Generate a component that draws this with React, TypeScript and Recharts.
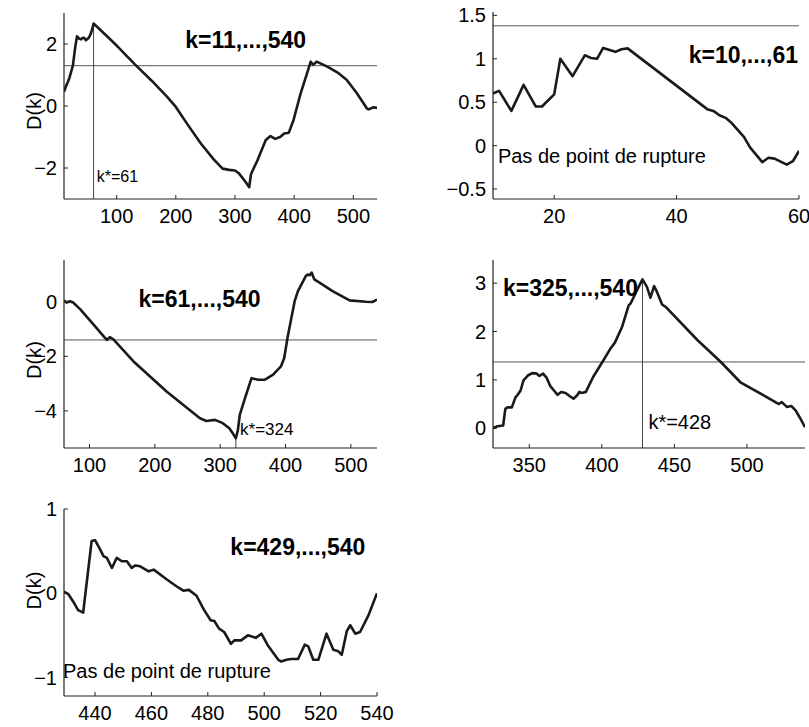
import React from 'react';
import { LineChart, Line, XAxis, YAxis, ReferenceLine, ReferenceDot } from 'recharts';

const FONT = '"Liberation Sans", Arial, Helvetica, sans-serif';

// ---- data: [k, D(k)] ----
const series1: [number, number][] = [
  [11, 0.46], [14, 0.62], [18, 0.8], [20, 0.9], [26, 1.3], [30, 1.9], [33, 2.25], [36, 2.18], [40, 2.15],
  [43, 2.2], [45.5, 2.19], [48, 2.12], [50, 2.15], [53, 2.2], [56, 2.32], [59, 2.5], [61, 2.66], [70, 2.5],
  [100, 1.95], [130, 1.36], [160, 0.8], [185, 0.3], [200, -0.03], [220, -0.6], [242, -1.2], [264, -1.72],
  [279, -2.02], [290, -2.06], [300, -2.08], [307, -2.18], [318, -2.45], [324, -2.62], [327, -2.2], [338, -1.75],
  [352, -1.1], [360, -0.97], [368, -1.06], [377, -0.99], [383, -0.89], [391, -0.86], [399, -0.45], [411, 0.41],
  [428, 1.43], [432, 1.33], [438, 1.43], [456, 1.27], [475, 1.06], [489, 0.84], [506, 0.41], [523, -0.08],
  [526, -0.11], [534, -0.04], [540, -0.06],
];
const series2: [number, number][] = [
  [10, 0.6], [11, 0.63], [13, 0.4], [15, 0.7], [17, 0.45], [18, 0.45], [20, 0.59], [21, 1.0], [23, 0.8],
  [25, 1.04], [26, 1.01], [27, 1.0], [28, 1.125], [30, 1.08], [31, 1.11], [32, 1.12], [45, 0.42], [46, 0.4],
  [47, 0.35], [48, 0.32], [49, 0.26], [51, 0.1], [52, -0.02], [54, -0.19], [55, -0.14], [56, -0.15],
  [58, -0.22], [59, -0.18], [60, -0.06],
];
const series3: [number, number][] = [
  [61, 0.05], [65, -0.03], [70, 0.02], [75, -0.03], [86, -0.28], [106, -0.83], [124, -1.33], [127, -1.4],
  [131, -1.3], [137, -1.39], [167, -2.18], [218, -3.29], [269, -4.27], [279, -4.37], [292, -4.33], [304, -4.45],
  [314, -4.64], [320, -4.85], [324, -5.0], [327, -4.72], [330, -4.15], [338, -3.53], [348, -2.8], [358, -2.86],
  [368, -2.86], [381, -2.67], [393, -2.37], [398, -2.06], [403, -1.33], [409, -0.59], [414, 0.02], [419, 0.39],
  [431, 0.94], [434, 1.0], [437, 0.97], [440, 1.07], [444, 0.82], [452, 0.7], [472, 0.39], [498, 0.05],
  [523, 0.0], [533, -0.01], [540, 0.08],
];
const series4: [number, number][] = [
  [325, 0], [328, 0.04], [332, 0.055], [333.5, 0.4], [335, 0.43], [338, 0.43], [340.5, 0.64], [342, 0.69],
  [344, 0.78], [346, 0.99], [349, 1.09], [352, 1.14], [355, 1.13], [357, 1.08], [359.5, 1.13], [362, 1.04],
  [364.5, 0.87], [367, 0.78], [369.5, 0.69], [372, 0.75], [375, 0.73], [378, 0.66], [380.5, 0.61], [383, 0.68],
  [384.5, 0.75], [386, 0.73], [389, 0.75], [394, 1.06], [401, 1.4], [406, 1.65], [409, 1.77], [414, 2.1],
  [418.5, 2.54], [420, 2.59], [424, 2.84], [428, 3.08], [431, 2.93], [433.5, 2.7], [436, 2.94], [438, 2.82],
  [441.5, 2.56], [444, 2.51], [466, 1.82], [482, 1.37], [495.5, 0.95], [511.5, 0.68], [522, 0.5], [524, 0.54],
  [527.5, 0.44], [530.5, 0.46], [533.5, 0.37], [537, 0.19], [540, 0.02],
];
const series5: [number, number][] = [
  [429, 0.02], [430.5, -0.01], [432.3, -0.1], [434, -0.2], [435.8, -0.23], [438.8, 0.62], [440, 0.63],
  [441.8, 0.52], [443, 0.44], [444.2, 0.42], [446, 0.3], [447.7, 0.42], [449.5, 0.38], [451.3, 0.38], [453, 0.3],
  [454.3, 0.33], [456, 0.32], [459, 0.26], [460.8, 0.28], [465.6, 0.16], [469, 0.08], [471.3, 0.03],
  [473.3, 0.04], [476, -0.03], [478.7, -0.2], [481, -0.32], [482.3, -0.33], [484, -0.42], [485.8, -0.46],
  [488.2, -0.6], [489.4, -0.56], [491.8, -0.56], [494.2, -0.5], [497, -0.53], [499, -0.48], [501.3, -0.62],
  [505, -0.79], [506, -0.81], [507.9, -0.79], [509.6, -0.78], [512, -0.78], [514.4, -0.61], [515.6, -0.63],
  [517.4, -0.79], [519.2, -0.79], [522.1, -0.48], [524.5, -0.67], [526.3, -0.69], [527.5, -0.73], [529.3, -0.45],
  [530.5, -0.38], [532.3, -0.48], [534, -0.46], [537, -0.26], [540, 0.0],
];

// ---- ticks ----
const xTicks1 = [100, 200, 300, 400, 500];
const yTicks1 = [-2, 0, 2];
const xTicks2 = [20, 40, 60];
const yTicks2 = [-0.5, 0, 0.5, 1, 1.5];
const xTicks3 = [100, 200, 300, 400, 500];
const yTicks3 = [-4, -2, 0];
const xTicks4 = [350, 400, 450, 500];
const yTicks4 = [0, 1, 2, 3];
const xTicks5 = [440, 460, 480, 500, 520, 540];
const yTicks5 = [-1, 0, 1];

// ---- thresholds and titles ----
const thresholds = [1.3, 1.38, -1.4, 1.37, null];
const titles = ['k=11,...,540', 'k=10,...,61', 'k=61,...,540', 'k=325,...,540', 'k=429,...,540'];

const fmt = (v: number) => (v < 0 ? '\u2212' + String(-v) : String(v));

const TL = 4;
const AX = '#222';

const bottomTick = (p: any) => (
  <g>
    <line x1={p.x} x2={p.x} y1={p.y} y2={p.y - TL} stroke={AX} strokeWidth={1} />
    <text x={p.x} y={p.y + 10} dy="0.71em" textAnchor="middle" fontSize={20} fontFamily={FONT} fill="#000">
      {fmt(p.payload.value)}
    </text>
  </g>
);
const topTick = (p: any) => (
  <line x1={p.x} x2={p.x} y1={p.y} y2={p.y + TL} stroke={AX} strokeWidth={1} />
);
const leftTick = (p: any) => (
  <g>
    <line x1={p.x} x2={p.x + TL} y1={p.y} y2={p.y} stroke={AX} strokeWidth={1} />
    <text x={p.x - 7} y={p.y} dy="0.355em" textAnchor="end" fontSize={20} fontFamily={FONT} fill="#000">
      {fmt(p.payload.value)}
    </text>
  </g>
);
const rightTick = (p: any) => (
  <line x1={p.x} x2={p.x - TL} y1={p.y} y2={p.y} stroke={AX} strokeWidth={1} />
);

type Note = { x: number; y: number; text: string; size: number; bold?: boolean; anchor?: string; dx?: number };

type PanelProps = {
  left: number; top: number; w: number; h: number;
  series: [number, number][];
  xd: [number, number]; yd: [number, number];
  xt: number[]; yt: number[];
  thr: number | null;
  vline?: { k: number; d: number };
  notes: Note[];
  ylabel?: boolean;
  ylabelDy?: number;
};

const YW = 64;
const MT = 14;
const MR = 30;
const XH = 40;

function noteDot(n: Note, i: number) {
  return (
    <ReferenceDot
      key={'n' + i}
      xAxisId="b"
      yAxisId="l"
      x={n.x}
      y={n.y}
      r={0}
      fill="none"
      stroke="none"
      ifOverflow="visible"
      label={{
        content: (props: any) => {
          const vb = props.viewBox || {};
          return (
            <text
              x={(vb.x || 0) + (n.dx || 0)}
              y={vb.y || 0}
              textAnchor={n.anchor || 'start'}
              fontSize={n.size}
              fontWeight={n.bold ? 'bold' : 'normal'}
              fontFamily={FONT}
              fill="#000"
            >
              {n.text}
            </text>
          );
        },
      }}
    />
  );
}

function Panel(props: PanelProps) {
  const { left, top, w, h, series, xd, yd, xt, yt, thr, vline, notes, ylabel, ylabelDy } = props;
  const data = series.map(([k, d]) => ({ k, d }));
  const W = YW + w + MR;
  const H = MT + h + XH;
  return (
    <div style={{ position: 'absolute', left: left - YW, top: top - MT, width: W, height: H }}>
      <LineChart width={W} height={H} data={data} margin={{ top: MT, right: MR, bottom: 0, left: 0 }}>
        <XAxis xAxisId="b" dataKey="k" type="number" domain={xd} ticks={xt} allowDataOverflow interval={0}
          height={XH} tickSize={0} tickMargin={0} tickLine={false} tick={bottomTick}
          axisLine={{ stroke: AX, strokeWidth: 1.2 }} />
        <XAxis xAxisId="t" orientation="top" dataKey="k" type="number" domain={xd} ticks={xt} allowDataOverflow interval={0}
          height={0} tickSize={0} tickMargin={0} tickLine={false} tick={topTick}
          axisLine={{ stroke: AX, strokeWidth: 1.2 }} />
        <YAxis yAxisId="l" type="number" domain={yd} ticks={yt} allowDataOverflow interval={0}
          width={YW} tickSize={0} tickMargin={0} tickLine={false} tick={leftTick}
          axisLine={{ stroke: AX, strokeWidth: 1.2 }}
          label={ylabel ? {
            content: (p: any) => {
              const vb = p.viewBox || {};
              const cx = (vb.x || 0) + (vb.width || YW) - 30;
              const cy = (vb.y || 0) + (vb.height || 0) / 2 + (ylabelDy || 0);
              return (
                <text x={cx} y={cy} transform={`rotate(-90 ${cx} ${cy})`} textAnchor="middle"
                  dominantBaseline="central" fontSize={20} fontFamily={FONT} fill="#000">D(k)</text>
              );
            },
          } : undefined} />
        <YAxis yAxisId="r" orientation="right" type="number" domain={yd} ticks={yt} allowDataOverflow interval={0}
          width={0} tickSize={0} tickMargin={0} tickLine={false} tick={rightTick}
          axisLine={{ stroke: AX, strokeWidth: 1.2 }} />
        {thr !== null && (
          <ReferenceLine xAxisId="b" yAxisId="l" y={thr} stroke="#555" strokeWidth={1} />
        )}
        {vline && (
          <ReferenceLine xAxisId="b" yAxisId="l" segment={[{ x: vline.k, y: vline.d }, { x: vline.k, y: yd[0] }]}
            stroke="#444" strokeWidth={1} />
        )}
        <Line xAxisId="b" yAxisId="l" dataKey="d" type="linear" dot={false} stroke="#1a1a1a" strokeWidth={2.6}
          isAnimationActive={false} strokeLinejoin="round" />
        {notes.map((n, i) => noteDot(n, i))}
      </LineChart>
    </div>
  );
}

export default function App() {
  return (
    <div style={{ position: 'absolute', left: 0, top: 0, width: 809, height: 727, overflow: 'hidden', background: '#fff' }}>
      <Panel left={64} top={13} w={313} h={186} series={series1} xd={[11, 540]} yd={[-3, 3]} xt={xTicks1} yt={yTicks1}
        thr={thresholds[0]} vline={{ k: 61, d: 2.66 }} ylabel ylabelDy={5}
        notes={[
          { x: 216, y: 1.86, text: titles[0], size: 23, bold: true },
          { x: 66.3, y: -2.44, text: 'k*=61', size: 16 },
        ]} />
      <Panel left={493} top={12} w={306} h={187} series={series2} xd={[10, 60]} yd={[-0.615, 1.539]} xt={xTicks2} yt={yTicks2}
        thr={thresholds[1]}
        notes={[
          { x: 60, y: 0.951, text: titles[1], size: 23, bold: true, anchor: 'end', dx: -1 },
          { x: 10.8, y: -0.201, text: 'Pas de point de rupture', size: 20 },
        ]} />
      <Panel left={64} top={260} w={313} h={188} series={series3} xd={[61, 540]} yd={[-5.36, 1.53]} xt={xTicks3} yt={yTicks3}
        thr={thresholds[2]} vline={{ k: 324, d: -5.0 }} ylabel ylabelDy={6}
        notes={[
          { x: 175, y: -0.184, text: titles[2], size: 23, bold: true },
          { x: 330.4, y: -4.89, text: 'k*=324', size: 17 },
        ]} />
      <Panel left={493} top={260} w={312} h={188} series={series4} xd={[325, 540]} yd={[-0.41, 3.48]} xt={xTicks4} yt={yTicks4}
        thr={thresholds[3]} vline={{ k: 428, d: 3.08 }}
        notes={[
          { x: 331.9, y: 2.73, text: titles[3], size: 23, bold: true },
          { x: 432.1, y: -0.01, text: 'k*=428', size: 20 },
        ]} />
      <Panel left={64} top={509} w={313} h={187} series={series5} xd={[429, 540]} yd={[-1.22, 1.0]} xt={xTicks5} yt={yTicks5}
        thr={thresholds[4]} ylabel ylabelDy={-12}
        notes={[
          { x: 488, y: 0.457, text: titles[4], size: 23, bold: true },
          { x: 429, y: -1.01, text: 'Pas de point de rupture', size: 20, dx: -1 },
        ]} />
    </div>
  );
}
